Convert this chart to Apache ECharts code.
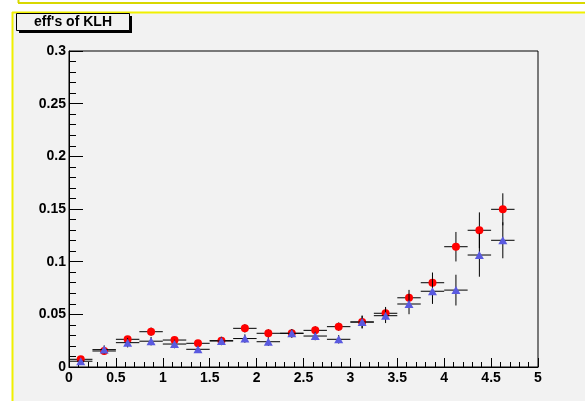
<!DOCTYPE html>
<html>
<head>
<meta charset="utf-8">
<script src="https://cdn.jsdelivr.net/npm/echarts@6/dist/echarts.min.js"></script>
<style>
  html, body { margin: 0; padding: 0; background: #ffffff; }
  #chart { width: 585px; height: 401px; }
</style>
</head>
<body>
<div id="chart"></div>
<script>
// Bin centres (bin width 0.25 over 0..5)
const binCenters = [0.125, 0.375, 0.625, 0.875, 1.125, 1.375, 1.625, 1.875, 2.125, 2.375,
                    2.625, 2.875, 3.125, 3.375, 3.625, 3.875, 4.125, 4.375, 4.625];
const binHalfWidth = 0.125;

// Efficiency, first sample (red circles)
const effA = [0.0073, 0.0152, 0.0263, 0.0335, 0.0256, 0.0225, 0.0250, 0.0367, 0.0320, 0.0320,
              0.0348, 0.0383, 0.0427, 0.0510, 0.0657, 0.0800, 0.1142, 0.1298, 0.1497];
const errA = [0.0020, 0.0030, 0.0030, 0.0040, 0.0030, 0.0030, 0.0030, 0.0040, 0.0040, 0.0040,
              0.0040, 0.0040, 0.0060, 0.0060, 0.0075, 0.0097, 0.0140, 0.0170, 0.0152];

// Efficiency, second sample (blue triangles)
const effB = [0.0055, 0.0165, 0.0231, 0.0245, 0.0218, 0.0168, 0.0247, 0.0270, 0.0240, 0.0320,
              0.0294, 0.0263, 0.0427, 0.0487, 0.0598, 0.0719, 0.0730, 0.1063, 0.1203];
const errB = [0.0020, 0.0040, 0.0045, 0.0040, 0.0040, 0.0030, 0.0040, 0.0040, 0.0040, 0.0040,
              0.0040, 0.0040, 0.0060, 0.0070, 0.0097, 0.0120, 0.0146, 0.0206, 0.0171];

const xTicks = { min: 0, max: 5, interval: 0.5 };
const yTicks = { min: 0, max: 0.3, interval: 0.05 };
const titleText = "eff's of KLH";

const FONT = '"Liberation Sans", Arial, Helvetica, sans-serif';

function errorData(vals, errs) {
  return binCenters.map((x, i) => [x, vals[i], errs[i]]);
}
function pointData(vals) {
  return binCenters.map((x, i) => [x, vals[i]]);
}

// Cross-shaped error bars: full bin width horizontally, +-err vertically
function renderErrors(params, api) {
  const x = api.value(0), y = api.value(1), e = api.value(2);
  const left = api.coord([x - binHalfWidth, y]);
  const right = api.coord([x + binHalfWidth, y]);
  const top = api.coord([x, y + e]);
  const bottom = api.coord([x, y - e]);
  const style = { stroke: '#000000', lineWidth: 1 };
  return {
    type: 'group',
    children: [
      { type: 'line', shape: { x1: left[0], y1: left[1], x2: right[0], y2: right[1] }, style },
      { type: 'line', shape: { x1: top[0], y1: top[1], x2: bottom[0], y2: bottom[1] }, style }
    ]
  };
}

const chart = echarts.init(document.getElementById('chart'), null, { renderer: 'canvas' });

const axisLabel = {
  color: '#000000',
  fontFamily: FONT,
  fontWeight: 'bold',
  fontSize: 14
};

chart.setOption({
  backgroundColor: '#ffffff',
  animation: false,
  graphic: [
    // pad background and selection outline
    { type: 'rect', shape: { x: 12, y: 12, width: 573, height: 389 }, style: { fill: '#f2f2f2' }, z: -10 },
    { type: 'line', shape: { x1: 12, y1: 12.5, x2: 585, y2: 12.5 }, style: { stroke: '#f0f000', lineWidth: 2 }, z: -5 },
    { type: 'line', shape: { x1: 12.5, y1: 12, x2: 12.5, y2: 401 }, style: { stroke: '#f0f000', lineWidth: 2 }, z: -5 },
    { type: 'line', shape: { x1: 18, y1: 3, x2: 585, y2: 3 }, style: { stroke: '#d8d800', lineWidth: 2 }, z: -5 },
    { type: 'line', shape: { x1: 18.5, y1: 0, x2: 18.5, y2: 3 }, style: { stroke: '#d8d800', lineWidth: 2 }, z: -5 },
    // title box with drop shadow
    { type: 'rect', shape: { x: 19, y: 16, width: 113, height: 17 }, style: { fill: '#000000' }, z: 5 },
    { type: 'rect', shape: { x: 16.5, y: 13.5, width: 113, height: 17 }, style: { fill: '#f2f2f2', stroke: '#000000', lineWidth: 1 }, z: 6 },
    { type: 'text', x: 73, y: 22.5, style: { text: titleText, fill: '#000000', font: 'bold 14px ' + FONT, align: 'center', verticalAlign: 'middle' }, z: 7 }
  ],
  grid: {
    left: 69, right: 47, top: 51, bottom: 34,
    show: true, borderColor: '#000000', borderWidth: 1, backgroundColor: 'transparent'
  },
  xAxis: {
    type: 'value',
    min: xTicks.min, max: xTicks.max, interval: xTicks.interval,
    axisLine: { show: true, onZero: false, lineStyle: { color: '#000000', width: 1 } },
    axisTick: { show: true, inside: true, length: 9, lineStyle: { color: '#000000' } },
    minorTick: { show: true, splitNumber: 5, length: 5, lineStyle: { color: '#000000' } },
    splitLine: { show: false },
    axisLabel: Object.assign({ margin: 4, showMinLabel: true, showMaxLabel: true }, axisLabel)
  },
  yAxis: {
    type: 'value',
    min: yTicks.min, max: yTicks.max, interval: yTicks.interval,
    axisLine: { show: true, onZero: false, lineStyle: { color: '#000000', width: 1 } },
    axisTick: { show: true, inside: true, length: 14, lineStyle: { color: '#000000' } },
    minorTick: { show: true, splitNumber: 5, length: 7, lineStyle: { color: '#000000' } },
    splitLine: { show: false },
    axisLabel: Object.assign({ margin: 3, showMinLabel: true, showMaxLabel: true }, axisLabel)
  },
  series: [
    {
      type: 'custom', name: 'errA', renderItem: renderErrors,
      data: errorData(effA, errA), z: 2, silent: true
    },
    {
      type: 'scatter', name: 'A', data: pointData(effA),
      symbol: 'circle', symbolSize: 8,
      itemStyle: { color: '#ff0000', opacity: 1 }, z: 3, silent: true
    },
    {
      type: 'custom', name: 'errB', renderItem: renderErrors,
      data: errorData(effB, errB), z: 4, silent: true
    },
    {
      type: 'scatter', name: 'B', data: pointData(effB),
      symbol: 'triangle', symbolSize: [9, 8],
      itemStyle: { color: '#5a5ae0', opacity: 1 }, z: 5, silent: true
    }
  ]
});
</script>
</body>
</html>
